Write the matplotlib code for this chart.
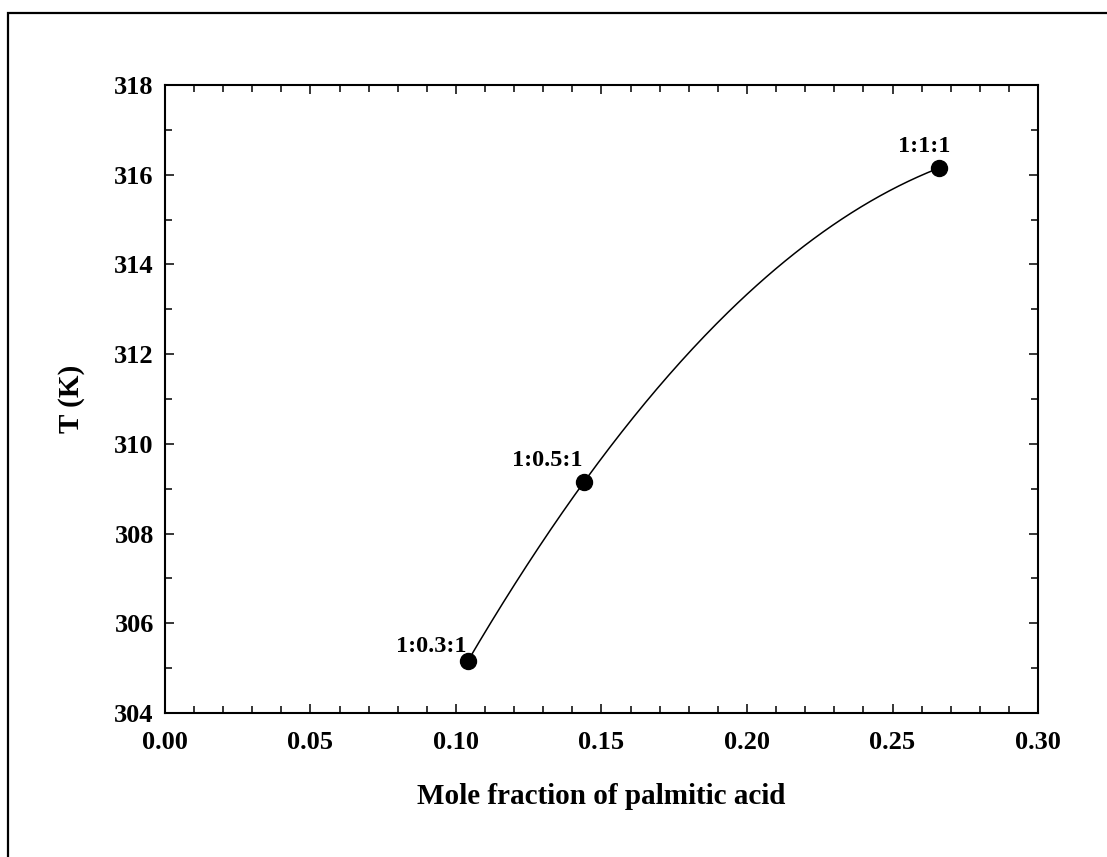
import numpy as np
import matplotlib.pyplot as plt
from matplotlib.patches import Rectangle
from matplotlib.ticker import MultipleLocator

# Melting temperature vs mole fraction of palmitic acid
mole_fraction = [0.104, 0.144, 0.266]
temperature = [305.15, 309.15, 316.15]
ratios = ['1:0.3:1', '1:0.5:1', '1:1:1']

plt.rcParams['font.family'] = 'Liberation Serif'
plt.rcParams['font.weight'] = 'bold'

fig = plt.figure(figsize=(11.07, 8.57), dpi=100)
ax = fig.add_axes([0.149, 0.168, 0.7887, 0.7328])

# border around the whole graph page
fig.patches.append(Rectangle((0.0072, -0.1), 1.1, 1.0848, transform=fig.transFigure,
                             fill=False, edgecolor='black', linewidth=1.6))

# smooth curve through the points (2nd order fit)
coef = np.polyfit(mole_fraction, temperature, 2)
xs = np.linspace(mole_fraction[0], mole_fraction[-1], 200)
ax.plot(xs, np.polyval(coef, xs), color='black', linewidth=1.1)
ax.plot(mole_fraction, temperature, 'o', color='black', markersize=11.5)

# ratio labels next to the points
offsets = [(-1, 7), (-1, 11.5), (-10.5, 11.5)]
aligns = ['right', 'right', 'center']
for x, y, r, off, ha in zip(mole_fraction, temperature, ratios, offsets, aligns):
    ax.annotate(r, (x, y), xytext=off, textcoords='offset points',
                ha=ha, va='baseline', fontsize=17.5, fontweight='bold')

ax.set_xlim(0, 0.30)
ax.set_ylim(304, 318)
ax.xaxis.set_major_locator(MultipleLocator(0.05))
ax.xaxis.set_minor_locator(MultipleLocator(0.01))
ax.yaxis.set_major_locator(MultipleLocator(2))
ax.yaxis.set_minor_locator(MultipleLocator(1))
ax.xaxis.set_major_formatter(lambda v, p: f'{v:.2f}')
ax.yaxis.set_major_formatter(lambda v, p: f'{v:.0f}')

ax.tick_params(which='both', direction='in', top=True, right=True, width=1.1)
ax.tick_params(which='major', length=6.5, labelsize=19)
ax.tick_params(axis='x', which='major', pad=13)
ax.tick_params(axis='y', which='major', pad=8)
ax.tick_params(which='minor', length=5)
for s in ax.spines.values():
    s.set_linewidth(1.5)

ax.set_xlabel('Mole fraction of palmitic acid', fontsize=21, fontweight='bold', labelpad=21)
ax.set_ylabel('T (K)', fontsize=21, fontweight='bold', labelpad=21)

fig.savefig('out.png', dpi=100)
